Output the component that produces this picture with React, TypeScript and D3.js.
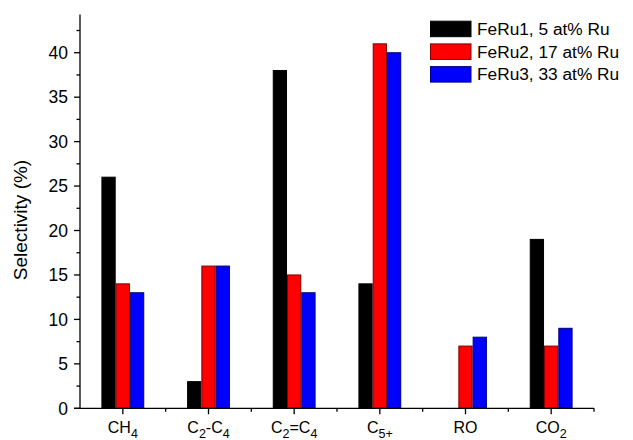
import React from "react";
import * as d3 from "d3";

const categories = ["CH4", "C2-C4", "C2=C4", "C5+", "RO", "CO2"];
const seriesNames = ["FeRu1, 5 at% Ru", "FeRu2, 17 at% Ru", "FeRu3, 33 at% Ru"];
const feru1 = [26, 3, 38, 14, 0, 19];
const feru2 = [14, 16, 15, 41, 7, 7];
const feru3 = [13, 16, 13, 40, 8, 9];
const yTicks = [0, 5, 10, 15, 20, 25, 30, 35, 40];
const fills = ["#000000", "#ff0000", "#0000ff"];
const strokes = ["#000000", "#800000", "#000080"];

const W = 633, H = 440;
const left = 80, right = 594, top = 14.5, bottom = 408.3;
const font = "Liberation Sans, Arial, sans-serif";
const SUB = 4.5;

function CatLabel({ name }: { name: string }) {
  if (name === "CH4") return <>CH<tspan dy={SUB} fontSize={12.5}>4</tspan></>;
  if (name === "C2-C4") return <>C<tspan dy={SUB} fontSize={12.5}>2</tspan><tspan dy={-SUB}>-C</tspan><tspan dy={SUB} fontSize={12.5}>4</tspan></>;
  if (name === "C2=C4") return <>C<tspan dy={SUB} fontSize={12.5}>2</tspan><tspan dy={-SUB}>=C</tspan><tspan dy={SUB} fontSize={12.5}>4</tspan></>;
  if (name === "C5+") return <>C<tspan dy={SUB} fontSize={12.5}>5+</tspan></>;
  if (name === "CO2") return <>CO<tspan dy={SUB} fontSize={12.5}>2</tspan></>;
  return <>{name}</>;
}

export default function App() {
  const x = d3.scaleBand<string>().domain(categories).range([left, right]).paddingInner(0).paddingOuter(0);
  const y = d3.scaleLinear().domain([0, 44.3]).range([bottom, top]);
  const series = [feru1, feru2, feru3];
  const groupW = x.bandwidth() * 0.5;
  const xs = d3.scaleBand<number>().domain([0, 1, 2]).range([0, groupW]);
  const minorY = d3.range(2.5, 44.3, 5);
  const bounds = d3.range(0, categories.length + 1).map((i) => left + i * x.bandwidth());

  return (
    <svg width={W} height={H} style={{ position: "absolute", left: 0, top: 0 }} fontFamily={font}>
      <rect width={W} height={H} fill="#fff" />
      {series.map((vals, si) =>
        vals.map((v, ci) => {
          if (v <= 0) return null;
          const cx = x(categories[ci])! + x.bandwidth() / 2 - groupW / 2 + xs(si)!;
          return (
            <rect key={`${si}-${ci}`} x={cx + 0.5} y={y(v)} width={xs.bandwidth() - 1} height={bottom - y(v)}
              fill={fills[si]} stroke={strokes[si]} strokeWidth={1} />
          );
        })
      )}
      {/* y axis */}
      <line x1={left} x2={left} y1={top} y2={bottom} stroke="#000" strokeWidth={1.3} />
      {yTicks.map((t) => (
        <g key={t}>
          <line x1={left - 6} x2={left} y1={y(t)} y2={y(t)} stroke="#000" strokeWidth={1.3} />
          <text x={left - 12} y={y(t)} dy="0.36em" textAnchor="end" fontSize={17.5}>{t}</text>
        </g>
      ))}
      {minorY.map((t) => (
        <line key={t} x1={left - 3.5} x2={left} y1={y(t)} y2={y(t)} stroke="#000" strokeWidth={1.3} />
      ))}
      {/* x axis */}
      <line x1={left - 6} x2={right} y1={bottom} y2={bottom} stroke="#000" strokeWidth={1.3} />
      {categories.map((c) => {
        const cx = x(c)! + x.bandwidth() / 2;
        return (
          <g key={c}>
            <line x1={cx} x2={cx} y1={bottom} y2={bottom + 6} stroke="#000" strokeWidth={1.3} />
            <text x={cx} y={bottom + 25} textAnchor="middle" fontSize={16}><CatLabel name={c} /></text>
          </g>
        );
      })}
      {bounds.slice(1).map((b, i) => (
        <line key={i} x1={b} x2={b} y1={bottom} y2={bottom + 3.5} stroke="#000" strokeWidth={1.3} />
      ))}
      <text transform={`translate(27,220) rotate(-90)`} textAnchor="middle" fontSize={19}>Selectivity (%)</text>
      {/* legend */}
      {seriesNames.map((n, i) => (
        <g key={n} transform={`translate(430,${20.7 + i * 22.7})`}>
          <rect x={0.5} y={0.5} width={40.5} height={15.5} fill={fills[i]} stroke={strokes[i]} strokeWidth={1} />
          <text x={47} y={14.3} fontSize={17.3}>{n}</text>
        </g>
      ))}
    </svg>
  );
}
